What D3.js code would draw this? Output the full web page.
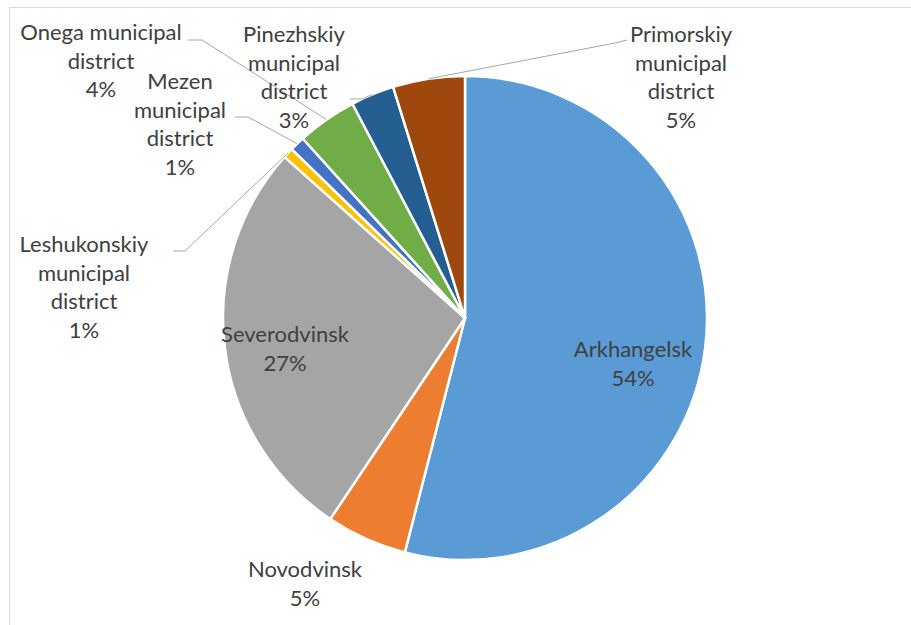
<!DOCTYPE html>
<html>
<head>
<meta charset="utf-8">
<script src="https://cdn.jsdelivr.net/npm/d3@7"></script>
<style>
  body { margin: 0; background: #fff; }
  text { font-family: Lato, "Noto Sans", sans-serif; fill: #404040; }
</style>
</head>
<body>
<div id="chart"></div>
<script>
const svgWidth = 911;
const svgHeight = 625;

// districts, clockwise from 12 o'clock
const districts = ['Arkhangelsk', 'Novodvinsk', 'Severodvinsk', 'Leshukonskiy municipal district',
    'Mezen municipal district', 'Onega municipal district', 'Pinezhskiy municipal district',
    'Primorskiy municipal district'];
const shares = [54.0, 5.4, 27.2, 0.7, 1.0, 4.0, 2.9, 4.8];
const colors = ['#5B9BD5', '#ED7D31', '#A5A5A5', '#FFC000', '#4472C4', '#70AD47', '#255E91', '#9E480E'];

// label lines, as Excel wraps them
const labelLines = [
    ['Arkhangelsk'],
    ['Novodvinsk'],
    ['Severodvinsk'],
    ['Leshukonskiy', 'municipal', 'district'],
    ['Mezen', 'municipal', 'district'],
    ['Onega municipal', 'district'],
    ['Pinezhskiy', 'municipal', 'district'],
    ['Primorskiy', 'municipal', 'district']
];

// layout: label centre x, first baseline y, leader elbow (null = inside / no leader)
const labelLayout = [
    { x: 633, y: 357, leader: null },
    { x: 305, y: 577, leader: null },
    { x: 285, y: 342, leader: null },
    { x: 84, y: 252, leader: [[173, 251], [185, 251]] },
    { x: 180, y: 89, leader: [[235, 117], [248, 117]] },
    { x: 101, y: 40, leader: [[188, 40], [202, 40]] },
    { x: 294, y: 42, leader: [[350, 99], [362, 99]] },
    { x: 681, y: 42, leader: [[627, 40], [615, 43]] }
];

const cx = 465, cy = 318, radius = 242;
const lineHeight = 28.7;

const svg = d3.select('#chart')
    .append('svg')
    .attr('width', svgWidth)
    .attr('height', svgHeight);

// chart area border
svg.append('rect')
    .attr('x', 9.5)
    .attr('y', 7.5)
    .attr('width', 1000)
    .attr('height', 1000)
    .attr('fill', 'none')
    .attr('stroke', '#D9D9D9')
    .attr('stroke-width', 1);

const data = districts.map((d, i) => ({ name: d, value: shares[i], color: colors[i], lines: labelLines[i], layout: labelLayout[i] }));

const pie = d3.pie()
    .sort(null)
    .value(d => d.value);

const arc = d3.arc()
    .innerRadius(0)
    .outerRadius(radius);

const arcs = pie(data);

const chartGroup = svg.append('g')
    .attr('transform', `translate(${cx}, ${cy})`);

chartGroup.selectAll('path')
    .data(arcs)
    .enter()
    .append('path')
    .attr('d', arc)
    .attr('fill', d => d.data.color)
    .attr('stroke', '#fff')
    .attr('stroke-width', 2.5)
    .attr('stroke-linejoin', 'round');

// leader lines, from the middle of the slice's outer edge to the label
svg.selectAll('.leader')
    .data(arcs.filter(d => d.data.layout.leader))
    .enter()
    .append('polyline')
    .classed('leader', true)
    .attr('points', d => {
        const mid = (d.startAngle + d.endAngle) / 2;
        const px = cx + radius * Math.sin(mid);
        const py = cy - radius * Math.cos(mid);
        const pts = d.data.layout.leader.slice();
        return pts.concat([[px, py]]).map(p => p.join(',')).join(' ');
    })
    .attr('fill', 'none')
    .attr('stroke', '#A6A6A6')
    .attr('stroke-width', 1);

const fmt = d3.format('.0f');
const labels = svg.selectAll('.label')
    .data(arcs)
    .enter()
    .append('text')
    .classed('label', true)
    .attr('text-anchor', 'middle')
    .attr('font-size', 22);

labels.each(function (d) {
    const t = d3.select(this);
    const lines = d.data.lines.concat([fmt(d.data.value) + '%']);
    lines.forEach((ln, i) => {
        t.append('tspan')
            .attr('x', d.data.layout.x)
            .attr('y', d.data.layout.y + i * lineHeight)
            .text(ln);
    });
});
</script>
</body>
</html>
